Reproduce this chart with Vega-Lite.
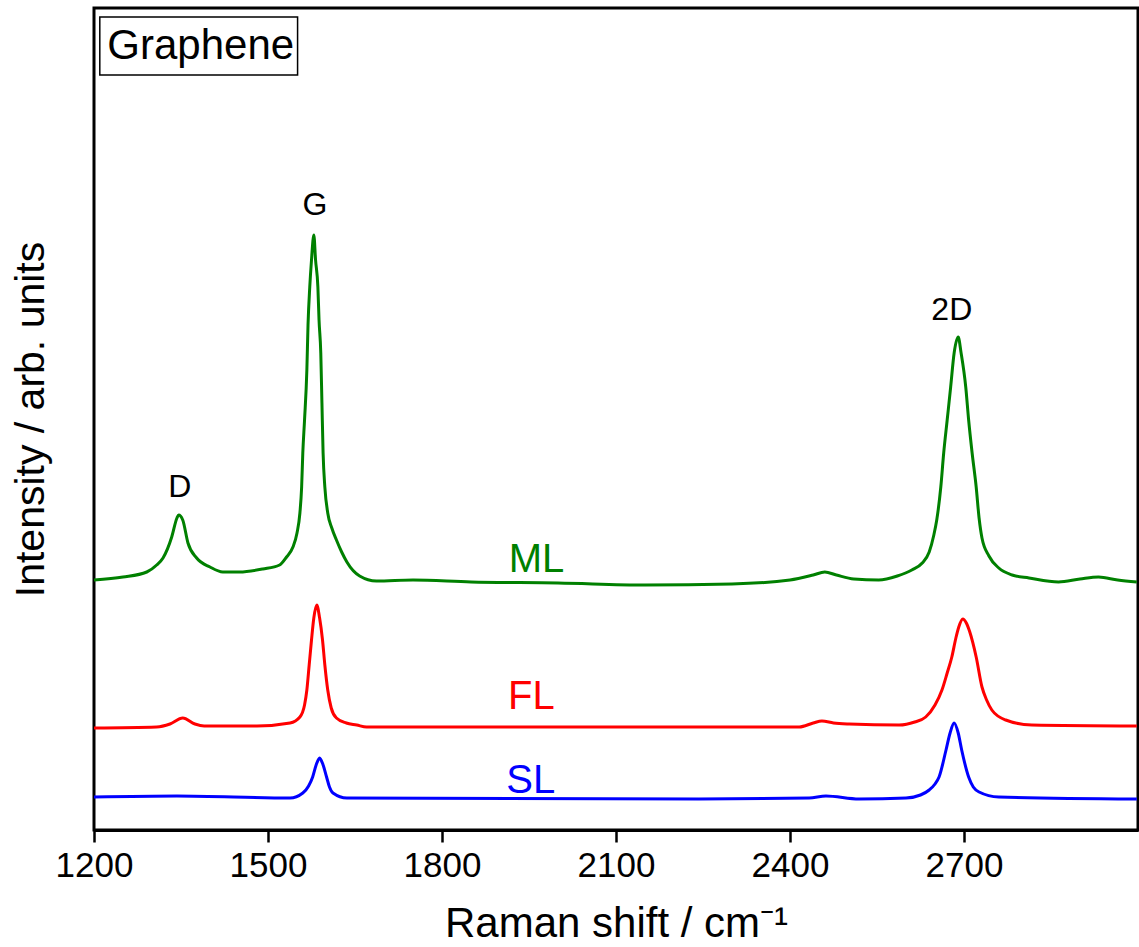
{
  "$schema": "https://vega.github.io/schema/vega-lite/v6.json",
  "width": 1044,
  "height": 822,
  "autosize": {"type": "none"},
  "padding": {"left": 94, "top": 8, "right": 1, "bottom": 117},
  "background": "white",
  "config": {
    "view": {"stroke": "black", "strokeWidth": 3},
    "font": "Liberation Sans"
  },
  "datasets": {
    "spectra": [
      {"s": "ML", "wn": 1200, "v": 250}, {"s": "ML", "wn": 1250, "v": 253}, {"s": "ML", "wn": 1291, "v": 258},
      {"s": "ML", "wn": 1308, "v": 265}, {"s": "ML", "wn": 1319, "v": 272}, {"s": "ML", "wn": 1334, "v": 293},
      {"s": "ML", "wn": 1343, "v": 312}, {"s": "ML", "wn": 1346, "v": 315}, {"s": "ML", "wn": 1353, "v": 310},
      {"s": "ML", "wn": 1362, "v": 287}, {"s": "ML", "wn": 1377, "v": 272}, {"s": "ML", "wn": 1400, "v": 263},
      {"s": "ML", "wn": 1422, "v": 258}, {"s": "ML", "wn": 1451, "v": 258}, {"s": "ML", "wn": 1491, "v": 261},
      {"s": "ML", "wn": 1520, "v": 265}, {"s": "ML", "wn": 1532, "v": 273}, {"s": "ML", "wn": 1543, "v": 283},
      {"s": "ML", "wn": 1550, "v": 297}, {"s": "ML", "wn": 1555, "v": 317}, {"s": "ML", "wn": 1558, "v": 343},
      {"s": "ML", "wn": 1560, "v": 377}, {"s": "ML", "wn": 1563, "v": 410}, {"s": "ML", "wn": 1567, "v": 460},
      {"s": "ML", "wn": 1569, "v": 505}, {"s": "ML", "wn": 1572, "v": 543}, {"s": "ML", "wn": 1575, "v": 570},
      {"s": "ML", "wn": 1579, "v": 595}, {"s": "ML", "wn": 1582, "v": 570}, {"s": "ML", "wn": 1586, "v": 543},
      {"s": "ML", "wn": 1588, "v": 510}, {"s": "ML", "wn": 1591, "v": 477}, {"s": "ML", "wn": 1593, "v": 427},
      {"s": "ML", "wn": 1595, "v": 377}, {"s": "ML", "wn": 1598, "v": 343}, {"s": "ML", "wn": 1603, "v": 317},
      {"s": "ML", "wn": 1610, "v": 302}, {"s": "ML", "wn": 1618, "v": 290}, {"s": "ML", "wn": 1627, "v": 278},
      {"s": "ML", "wn": 1636, "v": 268}, {"s": "ML", "wn": 1658, "v": 254}, {"s": "ML", "wn": 1687, "v": 249},
      {"s": "ML", "wn": 1750, "v": 250}, {"s": "ML", "wn": 1850, "v": 248}, {"s": "ML", "wn": 2000, "v": 247},
      {"s": "ML", "wn": 2150, "v": 245}, {"s": "ML", "wn": 2300, "v": 246}, {"s": "ML", "wn": 2400, "v": 250},
      {"s": "ML", "wn": 2440, "v": 255}, {"s": "ML", "wn": 2460, "v": 258}, {"s": "ML", "wn": 2480, "v": 255},
      {"s": "ML", "wn": 2510, "v": 251}, {"s": "ML", "wn": 2553, "v": 250}, {"s": "ML", "wn": 2585, "v": 254},
      {"s": "ML", "wn": 2610, "v": 260}, {"s": "ML", "wn": 2628, "v": 267}, {"s": "ML", "wn": 2640, "v": 278},
      {"s": "ML", "wn": 2648, "v": 295}, {"s": "ML", "wn": 2653, "v": 310}, {"s": "ML", "wn": 2660, "v": 343},
      {"s": "ML", "wn": 2665, "v": 377}, {"s": "ML", "wn": 2671, "v": 410}, {"s": "ML", "wn": 2677, "v": 443},
      {"s": "ML", "wn": 2683, "v": 477}, {"s": "ML", "wn": 2690, "v": 493}, {"s": "ML", "wn": 2695, "v": 477},
      {"s": "ML", "wn": 2703, "v": 443}, {"s": "ML", "wn": 2708, "v": 410}, {"s": "ML", "wn": 2714, "v": 377},
      {"s": "ML", "wn": 2721, "v": 343}, {"s": "ML", "wn": 2726, "v": 312}, {"s": "ML", "wn": 2731, "v": 292},
      {"s": "ML", "wn": 2743, "v": 274}, {"s": "ML", "wn": 2760, "v": 262}, {"s": "ML", "wn": 2783, "v": 255},
      {"s": "ML", "wn": 2812, "v": 252}, {"s": "ML", "wn": 2863, "v": 248}, {"s": "ML", "wn": 2900, "v": 251},
      {"s": "ML", "wn": 2932, "v": 253}, {"s": "ML", "wn": 2965, "v": 250}, {"s": "ML", "wn": 2998, "v": 248},

      {"s": "FL", "wn": 1200, "v": 102}, {"s": "FL", "wn": 1308, "v": 103}, {"s": "FL", "wn": 1331, "v": 106},
      {"s": "FL", "wn": 1353, "v": 112}, {"s": "FL", "wn": 1374, "v": 106}, {"s": "FL", "wn": 1390, "v": 104},
      {"s": "FL", "wn": 1481, "v": 104}, {"s": "FL", "wn": 1538, "v": 107}, {"s": "FL", "wn": 1555, "v": 113},
      {"s": "FL", "wn": 1563, "v": 125}, {"s": "FL", "wn": 1567, "v": 140}, {"s": "FL", "wn": 1571, "v": 165},
      {"s": "FL", "wn": 1575, "v": 190}, {"s": "FL", "wn": 1579, "v": 212}, {"s": "FL", "wn": 1584, "v": 225},
      {"s": "FL", "wn": 1589, "v": 212}, {"s": "FL", "wn": 1594, "v": 190}, {"s": "FL", "wn": 1598, "v": 165},
      {"s": "FL", "wn": 1603, "v": 140}, {"s": "FL", "wn": 1609, "v": 122}, {"s": "FL", "wn": 1618, "v": 112},
      {"s": "FL", "wn": 1635, "v": 107}, {"s": "FL", "wn": 1653, "v": 105}, {"s": "FL", "wn": 1670, "v": 103},
      {"s": "FL", "wn": 2243, "v": 103}, {"s": "FL", "wn": 2416, "v": 103}, {"s": "FL", "wn": 2440, "v": 107},
      {"s": "FL", "wn": 2455, "v": 109}, {"s": "FL", "wn": 2475, "v": 107}, {"s": "FL", "wn": 2502, "v": 106},
      {"s": "FL", "wn": 2588, "v": 105}, {"s": "FL", "wn": 2615, "v": 108}, {"s": "FL", "wn": 2634, "v": 113},
      {"s": "FL", "wn": 2650, "v": 125}, {"s": "FL", "wn": 2662, "v": 140}, {"s": "FL", "wn": 2671, "v": 157},
      {"s": "FL", "wn": 2679, "v": 173}, {"s": "FL", "wn": 2686, "v": 192}, {"s": "FL", "wn": 2691, "v": 203},
      {"s": "FL", "wn": 2698, "v": 211}, {"s": "FL", "wn": 2704, "v": 207}, {"s": "FL", "wn": 2710, "v": 198},
      {"s": "FL", "wn": 2721, "v": 173}, {"s": "FL", "wn": 2731, "v": 143}, {"s": "FL", "wn": 2739, "v": 130},
      {"s": "FL", "wn": 2748, "v": 120}, {"s": "FL", "wn": 2772, "v": 110}, {"s": "FL", "wn": 2817, "v": 105},
      {"s": "FL", "wn": 2998, "v": 104},

      {"s": "SL", "wn": 1200, "v": 33}, {"s": "SL", "wn": 1343, "v": 34}, {"s": "SL", "wn": 1538, "v": 32},
      {"s": "SL", "wn": 1560, "v": 37}, {"s": "SL", "wn": 1570, "v": 44}, {"s": "SL", "wn": 1577, "v": 53},
      {"s": "SL", "wn": 1583, "v": 65}, {"s": "SL", "wn": 1589, "v": 72}, {"s": "SL", "wn": 1595, "v": 65},
      {"s": "SL", "wn": 1601, "v": 53}, {"s": "SL", "wn": 1606, "v": 43}, {"s": "SL", "wn": 1612, "v": 37},
      {"s": "SL", "wn": 1636, "v": 32}, {"s": "SL", "wn": 2243, "v": 31}, {"s": "SL", "wn": 2433, "v": 32},
      {"s": "SL", "wn": 2462, "v": 34}, {"s": "SL", "wn": 2519, "v": 31}, {"s": "SL", "wn": 2600, "v": 32},
      {"s": "SL", "wn": 2625, "v": 35}, {"s": "SL", "wn": 2640, "v": 40}, {"s": "SL", "wn": 2650, "v": 46},
      {"s": "SL", "wn": 2657, "v": 53}, {"s": "SL", "wn": 2669, "v": 80}, {"s": "SL", "wn": 2676, "v": 97},
      {"s": "SL", "wn": 2683, "v": 107}, {"s": "SL", "wn": 2690, "v": 97}, {"s": "SL", "wn": 2696, "v": 80},
      {"s": "SL", "wn": 2708, "v": 53}, {"s": "SL", "wn": 2716, "v": 43}, {"s": "SL", "wn": 2726, "v": 38},
      {"s": "SL", "wn": 2760, "v": 33}, {"s": "SL", "wn": 2998, "v": 31}
    ],
    "seriesLabels": [
      {"s": "ML", "wn": 1963, "v": 270},
      {"s": "FL", "wn": 1954, "v": 133},
      {"s": "SL", "wn": 1953, "v": 49}
    ],
    "peakLabels": [
      {"t": "D", "wn": 1348, "v": 343},
      {"t": "G", "wn": 1581, "v": 625},
      {"t": "2D", "wn": 2679, "v": 520}
    ],
    "box": [
      {"x1": 1210, "x2": 1551, "y1": 755, "y2": 813, "t": "Graphene", "xt": 1223, "yt": 784}
    ]
  },
  "layer": [
    {
      "data": {"name": "spectra"},
      "mark": {"type": "line", "strokeWidth": 3, "clip": true, "interpolate": "monotone"},
      "encoding": {
        "x": {
          "field": "wn", "type": "quantitative",
          "scale": {"domain": [1200, 3000], "nice": false, "zero": false},
          "axis": {
            "values": [1200, 1500, 1800, 2100, 2400, 2700], "format": "d",
            "title": "Raman shift / cm⁻¹", "grid": false,
            "domainColor": "black", "domainWidth": 3,
            "ticks": true, "tickColor": "black", "tickWidth": 2.5, "tickSize": 12,
            "labelFlush": false, "labelOverlap": false,
            "labelFontSize": 35, "labelColor": "black", "labelPadding": 6, "labelFont": "Liberation Sans",
            "titleFontSize": 42, "titleColor": "black", "titleFontWeight": "normal", "titleFont": "Liberation Sans",
            "titlePadding": 20
          }
        },
        "y": {
          "field": "v", "type": "quantitative",
          "scale": {"domain": [0, 822], "nice": false, "zero": false},
          "axis": {
            "ticks": false, "labels": false, "domain": false, "grid": false,
            "title": "Intensity / arb. units",
            "titleFontSize": 41, "titleColor": "black", "titleFontWeight": "normal", "titleFont": "Liberation Sans",
            "titlePadding": 42
          }
        },
        "color": {
          "field": "s", "type": "nominal",
          "scale": {"domain": ["ML", "FL", "SL"], "range": ["#008000", "#ff0000", "#0000ff"]},
          "legend": null
        },
        "detail": {"field": "s"},
        "order": {"field": "wn", "type": "quantitative"}
      }
    },
    {
      "data": {"name": "seriesLabels"},
      "mark": {"type": "text", "fontSize": 40, "align": "center", "baseline": "middle"},
      "encoding": {
        "x": {"field": "wn", "type": "quantitative"},
        "y": {"field": "v", "type": "quantitative"},
        "text": {"field": "s"},
        "color": {"field": "s", "type": "nominal", "legend": null}
      }
    },
    {
      "data": {"name": "peakLabels"},
      "mark": {"type": "text", "fontSize": 32, "align": "center", "baseline": "middle", "color": "black"},
      "encoding": {
        "x": {"field": "wn", "type": "quantitative"},
        "y": {"field": "v", "type": "quantitative"},
        "text": {"field": "t"}
      }
    },
    {
      "data": {"name": "box"},
      "mark": {"type": "rect", "fill": "white", "stroke": "black", "strokeWidth": 1.5},
      "encoding": {
        "x": {"field": "x1", "type": "quantitative"},
        "x2": {"field": "x2"},
        "y": {"field": "y1", "type": "quantitative"},
        "y2": {"field": "y2"}
      }
    },
    {
      "data": {"name": "box"},
      "mark": {"type": "text", "fontSize": 42, "align": "left", "baseline": "middle", "color": "black"},
      "encoding": {
        "x": {"field": "xt", "type": "quantitative"},
        "y": {"field": "yt", "type": "quantitative"},
        "text": {"field": "t"}
      }
    }
  ]
}
